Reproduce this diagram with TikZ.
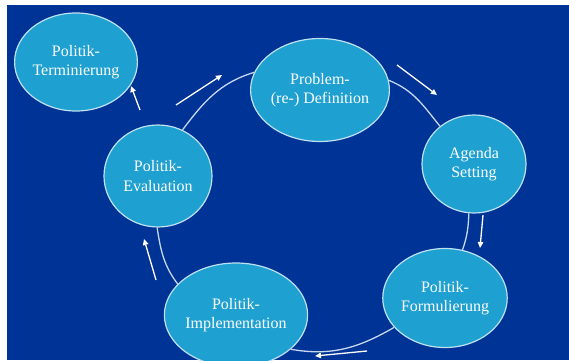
\documentclass[tikz,border=0pt]{standalone}
\usepackage{fontspec}
\setmainfont{Liberation Serif}
\usetikzlibrary{shapes.geometric,arrows.meta}
\definecolor{bgblue}{RGB}{0,51,150}
\definecolor{cfill}{RGB}{30,160,208}
\definecolor{cline}{RGB}{190,225,242}
\definecolor{arccol}{RGB}{200,215,240}
\begin{document}
\begin{tikzpicture}[x=1pt,y=1pt,
  stage/.style={ellipse,fill=cfill,draw=cline,line width=1.2pt,inner sep=0pt,
    text=white,align=center,font=\fontsize{16}{19.5}\selectfont},
  arcline/.style={draw=arccol,line width=1.3pt},
  flowarrow/.style={draw=white,line width=1.3pt,-{Triangle[length=6pt,width=5.5pt]}}]
\useasboundingbox (0,0) rectangle (569,360);
\fill[bgblue] (7,0) rectangle (569,355);

\node[stage,minimum width=108pt,minimum height=98pt]  (term)   at (76,298)  {Politik-\\Terminierung};
\node[stage,minimum width=108pt,minimum height=102pt] (eval)   at (158,184) {Politik-\\Evaluation};
\node[stage,minimum width=114pt,minimum height=103pt] (prob)   at (320,270) {Problem-\\(re-) Definition};
\node[stage,minimum width=104pt,minimum height=98pt]  (agenda) at (474,196) {Agenda\\Setting};
\node[stage,minimum width=119pt,minimum height=99pt]  (form)   at (445,62)  {Politik-\\Formulierung};
\node[stage,minimum width=120pt,minimum height=104pt] (impl)   at (236,45)  {Politik-\\Implementation};

\draw[arcline] (eval.62) to[out=53,in=197] (prob.165);
\draw[arcline] (prob.8) to[out=-22,in=129] (agenda.132);
\draw[arcline] (agenda.264) to[out=268,in=71] (form.70);
\draw[arcline] (form.210) to[out=210,in=350] (impl.328);
\draw[arcline] (impl.152) to[out=127,in=279] (eval.269);

\coordinate (a1s) at (140,250); \coordinate (a1e) at (131,274);
\coordinate (a2s) at (176,255); \coordinate (a2e) at (222,285);
\coordinate (a3s) at (397,295); \coordinate (a3e) at (437,265);
\coordinate (a4s) at (483,145); \coordinate (a4e) at (480,112);
\coordinate (a5s) at (367,9);   \coordinate (a5e) at (315,4);
\coordinate (a6s) at (156,80);  \coordinate (a6e) at (144,121);

\draw[flowarrow] (a1s) -- (a1e);
\draw[flowarrow] (a2s) -- (a2e);
\draw[flowarrow] (a3s) -- (a3e);
\draw[flowarrow] (a4s) -- (a4e);
\draw[flowarrow] (a5s) -- (a5e);
\draw[flowarrow] (a6s) -- (a6e);
\end{tikzpicture}
\end{document}
